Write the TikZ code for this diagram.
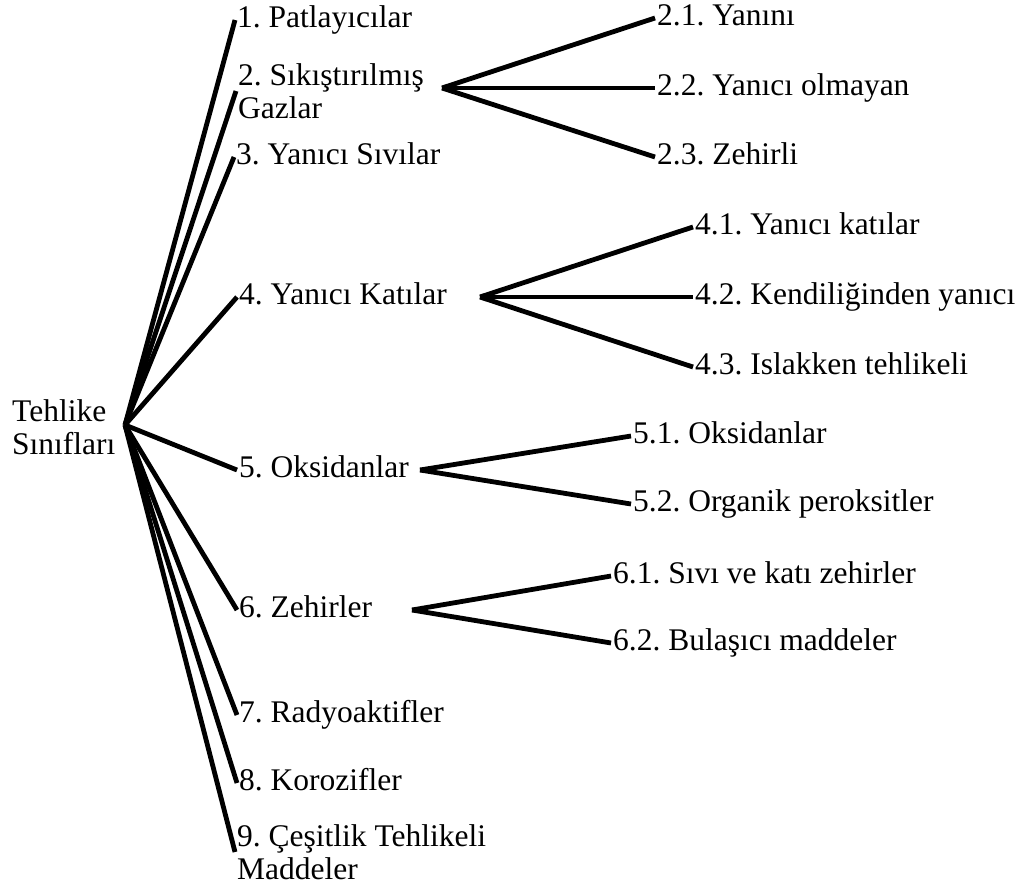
\documentclass[tikz,border=0pt]{standalone}
\usepackage{fontspec}
\setmainfont{Liberation Serif}
\frenchspacing
\begin{document}
\begin{tikzpicture}[x=1pt,y=-1pt,
  lbl/.style={anchor=west, inner sep=2pt, font=\fontsize{31.5}{34}\selectfont, text height=22pt, text depth=8pt},
  lbltwo/.style={anchor=west, inner sep=2pt, font=\fontsize{31.5}{33}\selectfont, align=left},
  link/.style={line width=4.8pt}]
\useasboundingbox (0,0) rectangle (1030,889);
% root
\node[lbltwo] (root) at (10,427) {Tehlike\\Sınıfları};
\coordinate (r) at (125,425);
% level 1
\node[lbl] (n1) at (235,20) {1. Patlayıcılar};
\node[lbltwo] (n2) at (236,91) {2. Sıkıştırılmış\\Gazlar};
\node[lbl] (n3) at (234,157) {3. Yanıcı Sıvılar};
\node[lbl] (n4) at (237,297) {4. Yanıcı Katılar};
\node[lbl] (n5) at (237,470) {5. Oksidanlar};
\node[lbl] (n6) at (237,610) {6. Zehirler};
\node[lbl] (n7) at (237,715) {7. Radyoaktifler};
\node[lbl] (n8) at (237,783) {8. Korozifler};
\node[lbltwo] (n9) at (235,852) {9. Çeşitlik Tehlikeli\\Maddeler};
% level 2
\coordinate (j2) at (442,88);
\node[lbl] (a21) at (655,18) {2.1. Yanını};
\node[lbl] (a22) at (655,88) {2.2. Yanıcı olmayan};
\node[lbl] (a23) at (655,157) {2.3. Zehirli};
\coordinate (j4) at (480,297);
\node[lbl] (a41) at (693,227) {4.1. Yanıcı katılar};
\node[lbl] (a42) at (693,297) {4.2. Kendiliğinden yanıcı};
\node[lbl] (a43) at (693,367) {4.3. Islakken tehlikeli};
\coordinate (j5) at (420,470);
\node[lbl] (a51) at (631,436) {5.1. Oksidanlar};
\node[lbl] (a52) at (631,504) {5.2. Organik peroksitler};
\coordinate (j6) at (412,610);
\node[lbl] (a61) at (611,576) {6.1. Sıvı ve katı zehirler};
\node[lbl] (a62) at (611,643) {6.2. Bulaşıcı maddeler};
% connectors
\foreach \n in {n1,n2,n3,n4,n5,n6,n7,n8,n9} \draw[link] (r) -- (\n.west);
\foreach \n in {a21,a22,a23} \draw[link] (j2) -- (\n.west);
\foreach \n in {a41,a42,a43} \draw[link] (j4) -- (\n.west);
\foreach \n in {a51,a52} \draw[link] (j5) -- (\n.west);
\foreach \n in {a61,a62} \draw[link] (j6) -- (\n.west);
\end{tikzpicture}
\end{document}
